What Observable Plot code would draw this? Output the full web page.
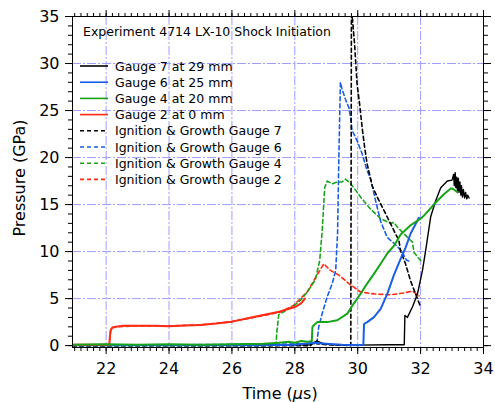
<!DOCTYPE html>
<html><head><meta charset="utf-8">
<script src="https://cdn.jsdelivr.net/npm/d3@7"></script>
<script src="https://cdn.jsdelivr.net/npm/@observablehq/plot@0.6"></script>
<style>body{margin:0;background:#fff}</style>
</head><body><div id="chart"></div>
<script>
// ---- data (time in µs, pressure in GPa) ----
const g7_t = [20.93, 25, 28.5, 28.7, 28.9, 29.2, 30, 31, 31.48, 31.5, 31.58, 31.74, 31.9, 32.06, 32.16, 32.32, 32.48, 32.64, 32.85, 33.0, 33.05, 33.07, 33.1, 33.12, 33.15, 33.17, 33.2, 33.22, 33.25, 33.28, 33.3, 33.33, 33.36, 33.4, 33.43, 33.47, 33.5, 33.54];
const g7_p = [0.05, 0.05, 0.1, 0.5, 0.2, 0.1, 0.05, 0.1, 0.1, 3.2, 3.0, 4.1, 5.5, 8.0, 10.1, 13.7, 15.4, 16.8, 17.5, 17.6, 18.2, 17.0, 18.4, 16.8, 17.9, 16.4, 17.8, 16.3, 17.4, 16.0, 17.0, 15.8, 16.6, 15.7, 16.3, 15.6, 16.0, 15.7];

const g6_t = [20.93, 24, 27, 28, 28.6, 29, 29.5, 30.0, 30.18, 30.2, 30.3, 30.51, 30.73, 30.94, 31.15, 31.36, 31.52, 31.68, 31.9, 31.94];
const g6_p = [0.05, 0.05, 0.05, 0.1, 0.3, 0.2, 0.1, 0.05, 0.1, 2.3, 2.5, 3.0, 3.9, 5.5, 7.5, 9.2, 10.4, 11.9, 13.3, 13.6];

const g4_t = [20.93, 22, 23, 24, 25, 26, 27, 27.5, 27.8, 28, 28.2, 28.4, 28.54, 28.56, 28.6, 28.71, 29.03, 29.35, 29.67, 29.88, 30.09, 30.3, 30.51, 30.73, 30.94, 31.15, 31.36, 31.68, 32.0, 32.1, 32.42, 32.74, 32.96, 33.01, 33.1, 33.17];
const g4_p = [0.1, 0.15, 0.1, 0.15, 0.1, 0.15, 0.2, 0.3, 0.4, 0.3, 0.5, 0.4, 0.5, 2.0, 2.15, 2.5, 2.5, 2.7, 3.4, 4.5, 5.5, 6.6, 7.6, 8.7, 9.8, 10.6, 11.8, 12.8, 13.5, 13.8, 15.0, 16.1, 16.7, 16.7, 16.5, 16.3];

const g2_t = [20.93, 22.1, 22.12, 22.15, 22.2, 22.3, 22.5, 23, 23.5, 24, 24.5, 25, 25.5, 26, 26.5, 27, 27.5, 28, 28.2, 28.32];
const g2_p = [0.1, 0.1, 1.0, 1.7, 1.9, 2.0, 2.1, 2.1, 2.1, 2.05, 2.15, 2.2, 2.35, 2.55, 2.9, 3.25, 3.6, 4.1, 4.5, 5.0];

const ig7_t = [20.93, 28.5, 28.6, 28.7, 29, 29.5, 29.78, 29.8, 29.9, 29.98, 30.06, 30.14, 30.22, 30.3, 30.46, 30.62, 30.83, 31.04, 31.2, 31.31, 31.36, 31.52, 31.68, 31.84, 32.0];
const ig7_p = [0, 0, 0.4, 0.2, 0.1, 0.05, 0, 36, 32.1, 27.8, 25.7, 23.2, 21.1, 19.3, 17.0, 15.8, 14.4, 13.0, 11.9, 11.2, 10.1, 8.7, 6.9, 5.5, 4.1];

const ig6_t = [20.93, 28.7, 28.76, 28.87, 29.03, 29.19, 29.3, 29.36, 29.4, 29.45, 29.5, 29.61, 29.72, 29.77, 29.82, 29.98, 30.14, 30.3, 30.41, 30.57, 30.73, 30.94, 31.15, 31.39, 31.55, 31.62];
const ig6_p = [0, 0.2, 2.0, 3.4, 5.2, 6.6, 8.0, 12, 20, 28.0, 27.3, 26.2, 25.3, 24.3, 22.9, 21.8, 20.4, 18.6, 17.7, 15.4, 13.2, 11.5, 10.9, 10.1, 9.1, 9.0];

const ig4_t = [20.93, 27.4, 27.43, 27.49, 27.7, 27.96, 28.2, 28.44, 28.65, 28.79, 28.87, 28.95, 29.03, 29.19, 29.35, 29.5, 29.61, 29.72, 29.88, 30.09, 30.41, 30.73, 31.04, 31.15, 31.26, 31.5, 31.74, 31.79, 32.0];
const ig4_p = [0, 0, 1.5, 3.3, 3.7, 4.2, 4.9, 5.9, 7.0, 9.0, 12.2, 16.8, 17.5, 17.2, 17.4, 17.4, 17.7, 17.4, 16.8, 15.8, 14.5, 13.5, 13.0, 13.1, 12.6, 11.8, 11.0, 9.9, 9.05];

const ig2_t = [20.93, 22.1, 22.15, 22.3, 23, 24, 25, 26, 27, 27.54, 27.96, 28.39, 28.71, 28.92, 29.13, 29.4, 29.72, 30.09, 30.51, 31.04, 31.47, 31.74, 31.95];
const ig2_p = [0, 0, 1.9, 2.0, 2.1, 2.1, 2.2, 2.55, 3.2, 3.57, 4.28, 5.7, 7.5, 8.7, 8.0, 7.5, 6.6, 5.7, 5.5, 5.4, 5.6, 5.8, 5.3];

const xMajor = [22, 24, 26, 28, 30, 32, 34];
const yMajor = [0, 5, 10, 15, 20, 25, 30, 35];
const xMinor = d3.range(21, 34.001, 0.2);
const yMinor = d3.range(0, 35.001, 1);
const xGrid = [22, 24, 26, 28, 30, 32, 34];
const yGrid = [5, 10, 15, 20, 25, 30, 35];

const titleText = "Experiment 4714 LX-10 Shock Initiation";
const legendLabels = ["Gauge 7 at 29 mm", "Gauge 6 at 25 mm", "Gauge 4 at 20 mm", "Gauge 2 at 0 mm",
  "Ignition & Growth Gauge 7", "Ignition & Growth Gauge 6", "Ignition & Growth Gauge 4", "Ignition & Growth Gauge 2"];
const colors = ["#000000", "#1a5ee6", "#18a418", "#ff2a12"];

const pts = (ts, ps) => ts.map((t, i) => ({t, p: ps[i]}));
const solid = [pts(g7_t, g7_p), pts(g6_t, g6_p), pts(g4_t, g4_p), pts(g2_t, g2_p)];
const dashed = [pts(ig7_t, ig7_p), pts(ig6_t, ig6_p), pts(ig4_t, ig4_p), pts(ig2_t, ig2_p)];

const gridStyle = {stroke: "#9d9dff", strokeOpacity: 1, strokeWidth: 1, strokeDasharray: "9,2,2,2"};
const dashedMarks = [3, 2, 1, 0].map(i => Plot.line(dashed[i], {x: "t", y: "p", stroke: colors[i], strokeWidth: 1.6, strokeDasharray: "4,3", clip: true}));
const solidOrder = [0, 1, 3, 2];
const solidMarks = solidOrder.map(i => Plot.line(solid[i], {x: "t", y: "p", stroke: colors[i], strokeWidth: i === 0 ? 1.4 : 2, clip: true}));

const chart = Plot.plot({
  width: 495, height: 402,
  marginLeft: 72, marginRight: 12, marginTop: 16, marginBottom: 55,
  style: {fontFamily: "DejaVu Sans", fontSize: "16px", background: "#fff", color: "#000"},
  x: {domain: [20.93, 34], label: null},
  y: {domain: [-0.2, 35], label: null},
  marks: [
    Plot.gridX(xGrid, gridStyle),
    Plot.gridY(yGrid, gridStyle),
    ...dashedMarks,
    ...solidMarks,
    Plot.frame({stroke: "#000", strokeWidth: 1}),
    Plot.axisX(xMajor, {anchor: "bottom", tickSize: 7, tickPadding: 8, label: null, tickFormat: d => String(d)}),
    Plot.axisX(xMinor, {anchor: "bottom", tickSize: 4, fill: "none", label: null}),
    Plot.axisX(xMajor, {anchor: "top", tickSize: 7, fill: "none", label: null}),
    Plot.axisX(xMinor, {anchor: "top", tickSize: 4, fill: "none", label: null}),
    Plot.axisY(yMajor, {anchor: "left", tickSize: 7, tickPadding: 6, label: null, tickFormat: d => String(d)}),
    Plot.axisY(yMinor, {anchor: "left", tickSize: 4, fill: "none", label: null}),
    Plot.axisY(yMajor, {anchor: "right", tickSize: 7, fill: "none", label: null}),
    Plot.axisY(yMinor, {anchor: "right", tickSize: 4, fill: "none", label: null})
  ]
});
document.getElementById("chart").appendChild(chart);

// Axis titles, in-plot title and legend
const svg = d3.select(chart);
const xt = svg.append("text").attr("x", 280).attr("y", 399).attr("text-anchor", "middle")
  .attr("font-family", "DejaVu Sans").attr("font-size", 16).attr("fill", "#000");
xt.append("tspan").text("Time (");
xt.append("tspan").attr("font-style", "italic").text("\u03bc");
xt.append("tspan").text("s)");
svg.append("text").attr("transform", "translate(25,178) rotate(-90)").attr("text-anchor", "middle")
  .attr("font-family", "DejaVu Sans").attr("font-size", 16).attr("fill", "#000").text("Pressure (GPa)");
svg.append("text").attr("x", 83).attr("y", 36).attr("text-anchor", "start").attr("font-family", "DejaVu Sans").attr("font-size", 12.5)
  .attr("fill", "#000").text(titleText);
legendLabels.forEach((lab, i) => {
  const y = 66 + i * 16.2;
  svg.append("line").attr("x1", 80).attr("x2", 108).attr("y1", y).attr("y2", y)
    .attr("stroke", colors[i % 4]).attr("stroke-width", 1.6)
    .attr("stroke-dasharray", i >= 4 ? "4,3" : null);
  svg.append("text").attr("x", 115).attr("y", y + 4.5).attr("text-anchor", "start").attr("font-family", "DejaVu Sans")
    .attr("font-size", 12.5).attr("fill", "#000").text(lab);
});
</script>
</body></html>
